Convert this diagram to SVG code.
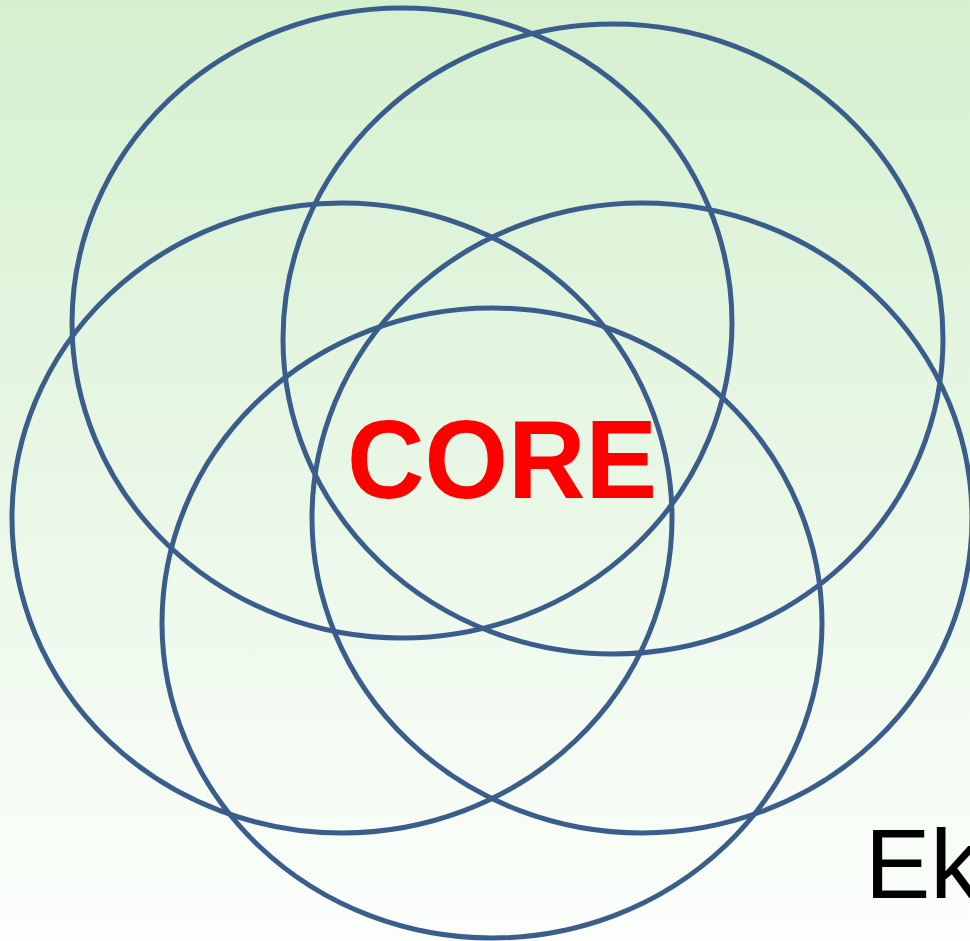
<svg xmlns="http://www.w3.org/2000/svg" width="970" height="941" viewBox="0 0 970 941">
<defs>
<linearGradient id="bg" x1="0" y1="0" x2="0" y2="1">
<stop offset="0" stop-color="#d5f0cf"/>
<stop offset="1" stop-color="#fcfefc"/>
</linearGradient>
<style>
.c{fill:none;stroke:#3a5d8c;stroke-width:5}
.core{font-family:"Liberation Sans",Arial,sans-serif;font-weight:bold;font-size:111px;fill:#ff0000}
.ek{font-family:"Liberation Sans",Arial,sans-serif;font-size:98px;fill:#000000}
</style>
</defs>
<rect width="970" height="941" fill="url(#bg)"/>
<g id="connectors"></g>
<g id="e1"><ellipse class="c" cx="402" cy="323" rx="330" ry="315"/></g>
<g id="e2"><ellipse class="c" cx="613" cy="339" rx="330" ry="315"/></g>
<g id="e3"><ellipse class="c" cx="342" cy="518" rx="330" ry="315"/></g>
<g id="e4"><ellipse class="c" cx="642" cy="518" rx="330" ry="315"/></g>
<g id="e5"><ellipse class="c" cx="492" cy="623" rx="330" ry="315"/></g>
<g id="core"><text class="core" x="347" y="498" textLength="310" lengthAdjust="spacingAndGlyphs">CORE</text></g>
<g id="ek"><text class="ek" x="865" y="898">Ek</text></g>
</svg>
